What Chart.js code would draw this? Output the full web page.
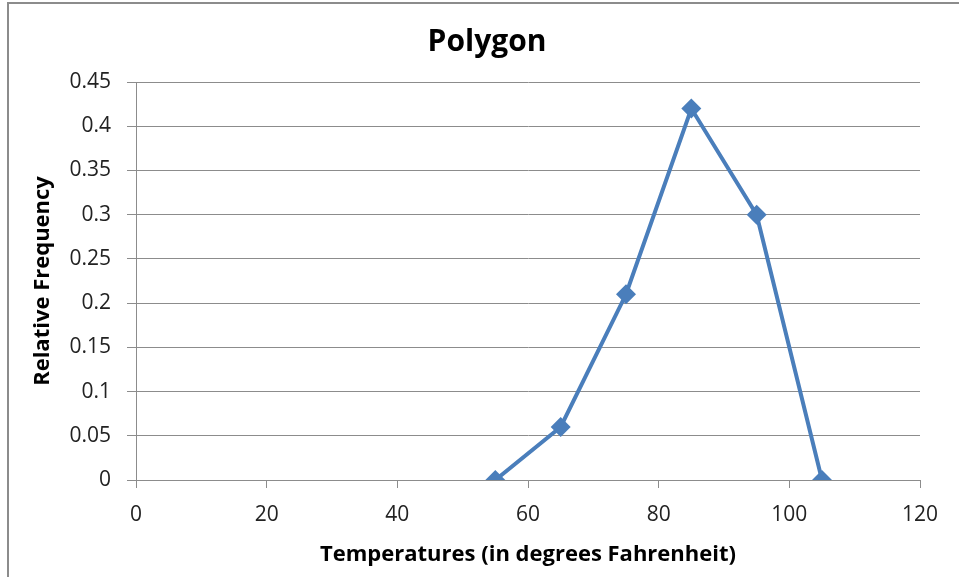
<!DOCTYPE html>
<html>
<head>
<meta charset="utf-8">
<title>Polygon</title>
<script src="https://cdn.jsdelivr.net/npm/chart.js@4.4.1/dist/chart.umd.min.js"></script>
<style>
    html, body { margin: 0; padding: 0; background: #fff; overflow: hidden; }
    #wrap { position: relative; width: 959px; height: 577px; }
    #marco {
        position: absolute; left: 7px; top: 2px;
        width: 1000px; height: 700px;
        border: 2px solid #8c8c8c;
    }
    #grafica { position: absolute; left: 0; top: 0; }
</style>
</head>
<body>
<div id="wrap">
    <div id="marco"></div>
    <canvas id="grafica" width="959" height="577"></canvas>
</div>
<script>
// datos del polígono de frecuencias
const temperaturas = [55, 65, 75, 85, 95, 105];
const frecuenciaRelativa = [0, 0.06, 0.21, 0.42, 0.30, 0];

// marcas de los ejes
const ticksX = [0, 20, 40, 60, 80, 100, 120];
const ticksY = [0, 0.05, 0.1, 0.15, 0.2, 0.25, 0.3, 0.35, 0.4, 0.45];

const colorLinea = '#4A7EBB';
const colorGris = '#8c8c8c';
const fuente = "'Open Sans', 'DejaVu Sans', sans-serif";

const puntos = temperaturas.map((t, i) => ({ x: t, y: frecuenciaRelativa[i] }));

new Chart(document.getElementById('grafica'), {
    type: 'scatter',
    data: {
        datasets: [{
            label: 'Relative Frequency',
            data: puntos,
            showLine: true,
            borderColor: colorLinea,
            backgroundColor: colorLinea,
            borderWidth: 4,
            pointStyle: 'rectRot',
            pointRadius: 10,
            pointHoverRadius: 10,
            pointBorderWidth: 0,
            tension: 0
        }]
    },
    options: {
        responsive: false,
        animation: false,
        devicePixelRatio: 1,
        // el título queda centrado entre 54 y 920
        layout: { padding: { left: 54, right: 39, top: 0, bottom: 0 } },
        plugins: {
            legend: { display: false },
            tooltip: { enabled: false },
            title: {
                display: true,
                text: 'Polygon',
                color: '#000',
                font: { family: fuente, size: 30, weight: 'bold', lineHeight: 1.2 },
                padding: { top: 24, bottom: 22 }
            }
        },
        scales: {
            x: {
                type: 'linear',
                min: 0,
                max: 120,
                afterBuildTicks: axis => { axis.ticks = ticksX.map(v => ({ value: v })); },
                afterFit: axis => { axis.height = 97; },
                border: { display: true, color: colorGris, width: 1 },
                grid: { drawOnChartArea: false, drawTicks: true, tickLength: 8, color: colorGris },
                ticks: {
                    color: '#222',
                    padding: 14,
                    maxRotation: 0,
                    font: { family: fuente, size: 21 }
                },
                title: {
                    display: true,
                    text: 'Temperatures (in degrees Fahrenheit)',
                    color: '#000',
                    font: { family: fuente, size: 22, weight: 'bold' },
                    padding: { top: 0, bottom: 9 }
                }
            },
            y: {
                type: 'linear',
                min: 0,
                max: 0.45,
                afterBuildTicks: axis => { axis.ticks = ticksY.map(v => ({ value: v })); },
                afterFit: axis => { axis.width = 82; },
                border: { display: true, color: colorGris, width: 1 },
                grid: { drawTicks: true, tickLength: 9, color: colorGris, lineWidth: 1 },
                ticks: {
                    color: '#222',
                    padding: 16,
                    font: { family: fuente, size: 21 },
                    callback: value => String(Number(value.toFixed(2)))
                },
                title: {
                    display: true,
                    text: 'Relative Frequency',
                    color: '#000',
                    font: { family: fuente, size: 22, weight: 'bold' },
                    padding: { top: -24, bottom: 0 }
                }
            }
        }
    }
});
</script>
</body>
</html>
